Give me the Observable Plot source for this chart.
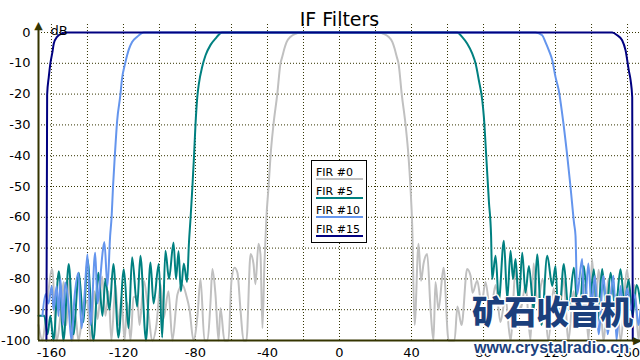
<!DOCTYPE html>
<html><head><meta charset="utf-8">
<script src="https://cdn.jsdelivr.net/npm/d3@7"></script>
<script src="https://cdn.jsdelivr.net/npm/@observablehq/plot@0.6"></script>
<style>
body{margin:0;background:#fff;}
#wrap{position:relative;width:640px;height:360px;overflow:hidden;font-family:"DejaVu Sans",Verdana,sans-serif;}
#legend{position:absolute;left:311px;top:160px;width:54px;height:81px;border:1px solid #000;background:#fff;}
.lt{position:absolute;left:4px;font-size:11px;line-height:11px;color:#000;white-space:nowrap;}
.ll{position:absolute;left:4px;width:47px;height:2px;}
.wm{position:absolute;color:#1b3f7c;white-space:nowrap;
 text-shadow:1.5px 0 #fff,-1.5px 0 #fff,0 1.5px #fff,0 -1.5px #fff,1px 1px #fff,-1px -1px #fff,1px -1px #fff,-1px 1px #fff;}
#wm1{left:472px;top:290px;font-family:"Noto Sans CJK SC";font-weight:900;font-size:33px;line-height:40px;letter-spacing:-1px;}
#wm2{left:474px;top:339px;font-family:"Liberation Sans",Arial,sans-serif;font-weight:bold;font-size:16px;line-height:18px;}
</style></head>
<body><div id="wrap"></div>
<script>
const titleText = ["IF Filters"];
const unitLabel = ["dB"];
const seriesNames = ["FIR #0", "FIR #5", "FIR #10", "FIR #15"];
const xTicks = [-160, -120, -80, -40, 0, 40, 80, 120, 160];
const yTicks = [0, -10, -20, -30, -40, -50, -60, -70, -80, -90, -100];
const xGrid = [-160, -140, -120, -100, -80, -60, -40, -20, 0, 20, 40, 60, 80, 100, 120, 140, 160];
const yGrid = [0, -10, -20, -30, -40, -50, -60, -70, -80, -90];
const xDomain = [-167.2, 167.2];

// FIR #0 (grey)
const fir0F = [-167.2,-165,-162.8,-159.6,-157.2,-155,-153.3,-151.7,-150,-148.3,-146.7,-145,-142.8,-140.2,-138.3,-136.1,-134.4,-131.8,-130,-128.3,-126.7,-124.4,-122.8,-121.1,-119.4,-117.9,-116.1,-114.4,-112.4,-111.1,-108.6,-106.7,-103.9,-101.7,-99.4,-97.8,-95,-92.8,-90,-87.2,-85,-83.3,-81.1,-78.9,-77.2,-75,-73.3,-71.7,-70.6,-68.9,-67.2,-66.1,-63.9,-61.7,-60,-58.3,-56.7,-55,-53.3,-51.7,-49.4,-47.8,-46.7,-45,-43.9,-42.8,-41.7,-40.6,-39.4,-38.3,-36.7,-34.6,-32.8,-31.8,-30.6,-29.4,-27.2,-24.4,-21.7,
 21.7,24.4,27.2,29.4,30.6,31.8,32.8,34.6,36.7,38.3,39.4,40.4,41.7,43.9,45.3,46.7,48.7,50.6,52.2,53.3,55,57.8,60.6,63.9,65.5,67.8,70.9,72.8,73.9,76.5,78.9,81.1,83.9,86.7,89.4,92.2,95,97.8,100.6,103.3,106.1,107.8,110,112.8,116.1,118.9,121.7,124.4,127.2,130,132.8,136.1,138.3,140.3,142.2,143.9,146.7,149.4,151.7,153.9,156.1,159.8,161.7,163.9,166.1,167.2];
const fir0Db = [-95,-100,-90,-76.8,-100,-92,-81,-95,-80,-100,-92,-100,-92,-87,-100,-84,-93,-79.3,-92,-84,-100,-82,-95,-86,-100,-87.7,-100,-86,-85.6,-95,-80.6,-88,-100,-95,-81.7,-93,-84,-100,-85,-82,-85.6,-90,-100,-92,-80,-100,-100,-88,-76.8,-85,-100,-89.5,-100,-100,-80.6,-76.4,-78,-90,-100,-100,-71.9,-75,-81.7,-68.6,-72,-96,-75,-60,-50,-40,-30,-20.2,-10.1,-7.9,-5.2,-3.1,-1.4,-0.4,0,
 0,-0.4,-1.4,-3.1,-5.2,-7.9,-10.1,-20.2,-30,-40,-50,-62.8,-95,-68.6,-80.6,-75,-71.9,-90,-100,-81,-90,-76.4,-100,-100,-89,-95,-76.8,-79,-84.5,-80.6,-88,-81,-91,-82,-94,-86,-100,-77.4,-90,-82,-100,-75,-88,-80,-100,-83,-95,-80,-100,-84,-96,-82,-100,-73.5,-90,-77,-100,-80,-92,-85,-100,-77,-90,-82,-100,-92];

// FIR #5 (teal)
const fir5F = [-167.2,-164,-162.2,-160.6,-158.9,-155.9,-153.3,-150.4,-147.8,-144.8,-142.2,-140,-136.7,-133.9,-131.7,-130,-127.8,-125.6,-122.8,-119.8,-117.2,-115.2,-112.4,-110.6,-107.5,-105,-103.3,-100.4,-98.5,-96.7,-94.7,-92.2,-90.8,-89.4,-88.1,-86.5,-84.7,-83.6,-82.7,-81.7,-80.8,-80,-79,-78.1,-76.3,-74.4,-71.7,-68.9,-65.2,
 65.4,68.1,70.9,73.7,75.6,77.4,79.3,80.2,81.5,83,84.2,84.8,86.7,88.5,91.3,93.2,95,96.4,97.8,99.6,101.5,103.3,105.2,107.9,109.8,112.2,115.4,118.2,120,121.7,124.6,127.2,130.2,132.8,135.7,138.3,141.3,143.3,145.9,148.3,150.6,153.3,156.1,158.3,160.6,162.8,165,167.2];
const fir5Db = [-92,-92,-98,-92,-100,-77.5,-100,-75.2,-98,-78,-94,-73.5,-100,-78,-92,-80,-90,-75.2,-99,-76.9,-96,-73,-89,-72.5,-100,-74.7,-88,-75.2,-99,-70.9,-80,-68.2,-80,-71,-84,-75,-81,-68,-60,-50,-40,-30,-21,-16.6,-11.2,-7.4,-4.1,-2,0,
 0,-1.4,-3.6,-6.8,-10.1,-15.5,-22,-27.5,-40,-55,-66,-80,-72.5,-87,-67.6,-86.6,-70.9,-80,-73.5,-87.7,-71.5,-84.5,-75.8,-90,-72,-95,-72.5,-82.3,-75.8,-95,-75.2,-90,-76.4,-95,-75.8,-92,-76.9,-94,-76.8,-90,-78,-90,-76.9,-88,-80.3,-92,-82,-88];

// FIR #10 (cornflower)
const fir10F = [-165,-163.3,-161.7,-159.8,-158.9,-157.1,-156.1,-155,-153.6,-152.4,-150.6,-148.9,-147.2,-145,-143.3,-141.7,-140,-138.3,-135.7,-134.4,-133,-131.7,-130.6,-128.9,-127.4,-126.6,-125.8,-124.8,-123.5,-121.7,-120.9,-119.1,-117.2,-115.2,-112.4,-108.7,
 108.9,112.6,114.4,116.3,118.2,120,121.8,123.7,126.5,128.3,130.3,131.1,132,134.8,136.1,138.2,140,141.9,143.9,146.7,148.9,152.2,153.9,156.1,157.8,159.8,161.7,163.9,166.1,167.2];
const fir10Db = [-92,-85,-88,-82.3,-90,-82.3,-92,-80,-95,-81.2,-88,-100,-86,-78,-96,-86,-72,-95,-71.5,-88,-80.6,-72,-68,-82.3,-66,-60,-50,-40,-28.6,-20.2,-15.5,-10.1,-5.8,-3.1,-1.4,0,
 0,-0.9,-3.1,-5.8,-9,-14.5,-18.8,-26.4,-40,-50,-62,-66,-85,-73.5,-92,-75,-88,-79,-98,-79,-98,-79,-100,-82.3,-92,-83,-90,-85,-95,-90];

// FIR #15 (navy)
const fir15F = [-162.8,-162.5,-162.4,-161.5,-160.6,-159.6,-158.7,-156.9,-154,-151.3,151.5,154.3,157,158.9,160.7,161.7,162.6,162.9];
const fir15Db = [-100,-40,-20.2,-14.5,-10,-6.8,-3.6,-1.4,-0.3,0,0,-0.9,-2.5,-5.8,-12.3,-15.5,-21,-100];

const colors = ["#c0c0c0", "#008080", "#6495ed", "#000080"];
const seriesF = [fir0F, fir5F, fir10F, fir15F];
const seriesDb = [fir0Db, fir5Db, fir10Db, fir15Db];
const rows = seriesNames.map((name, k) => seriesF[k].map((f, i) => ({name, f, db: seriesDb[k][i]})));

const axisColor = "#343400";
const chart = Plot.plot({
  width: 640, height: 360,
  marginTop: 32, marginBottom: 20, marginLeft: 38, marginRight: 0,
  style: {fontFamily: "DejaVu Sans, Verdana, sans-serif", fontSize: "13px", color: "#000", background: "#fff"},
  x: {domain: xDomain, ticks: xTicks, tickSize: 0, tickPadding: 7, tickFormat: d => String(d), label: null, line: false},
  y: {domain: [-100, 0], ticks: yTicks, tickSize: 0, tickPadding: 8, tickFormat: d => String(d), label: null, line: false},
  color: {domain: seriesNames, range: colors},
  marks: [
    Plot.ruleX(xGrid, {y1: -100, y2: 3, stroke: axisColor, strokeWidth: 1, strokeDasharray: "1,2"}),
    Plot.ruleY(yGrid, {x1: xDomain[0], x2: xDomain[1], stroke: axisColor, strokeWidth: 1, strokeDasharray: "1,2"}),
    ...rows.map(r => Plot.line(r, {x: "f", y: "db", stroke: "name", strokeWidth: 2, curve: "monotone-x"})),
    Plot.ruleY([-100], {x1: xDomain[0], x2: xDomain[1], stroke: axisColor, strokeWidth: 2}),
    Plot.ruleX([xDomain[0]], {y1: -100, y2: 2, stroke: axisColor, strokeWidth: 2}),
    Plot.text(["▲"], {x: xDomain[0], y: 0, dy: -7, fontSize: 11, fill: axisColor}),
    Plot.text(["▶"], {x: xDomain[1], y: -100, textAnchor: "end", dx: 1, fontSize: 11, fill: axisColor}),
    Plot.text(unitLabel, {x: xDomain[0], y: 0, textAnchor: "start", dx: 12, dy: -2, fontSize: 13, fill: "#000"}),
    Plot.text(titleText, {frameAnchor: "top", dy: -20, fontSize: 19, fill: "#000"})
  ]
});
const wrap = document.getElementById("wrap");
wrap.appendChild(chart);

const legend = document.createElement("div");
legend.id = "legend";
seriesNames.forEach((n, i) => {
  const t = document.createElement("div");
  t.className = "lt"; t.textContent = n; t.style.top = (5.5 + i * 19) + "px";
  const l = document.createElement("div");
  l.className = "ll"; l.style.top = (17 + i * 19) + "px"; l.style.background = colors[i];
  legend.appendChild(t); legend.appendChild(l);
});
wrap.appendChild(legend);

const w1 = document.createElement("div"); w1.id = "wm1"; w1.className = "wm"; w1.textContent = "矿石收音机";
const w2 = document.createElement("div"); w2.id = "wm2"; w2.className = "wm"; w2.textContent = "www.crystalradio.cn";
wrap.appendChild(w1); wrap.appendChild(w2);
</script></body></html>
